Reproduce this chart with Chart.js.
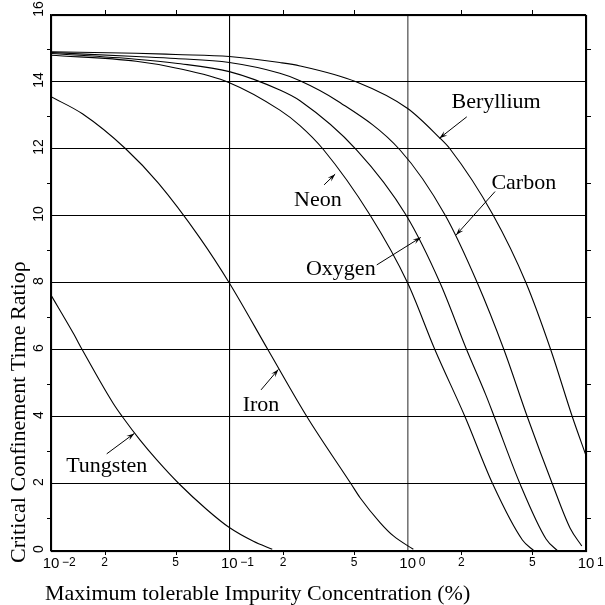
<!DOCTYPE html>
<html>
<head>
<meta charset="utf-8">
<script src="https://cdn.jsdelivr.net/npm/chart.js@4/dist/chart.umd.min.js"></script>
<style>
  html, body { margin: 0; padding: 0; background: #ffffff; }
  #wrap { width: 605px; height: 605px; }
</style>
</head>
<body>
<div id="wrap"><canvas id="c" width="605" height="605"></canvas></div>
<script>
// ---- Data (x = impurity concentration %, y = ratio) ----
const neonX = [0.01, 0.03, 0.05, 0.1, 0.192, 0.249, 0.335, 0.615, 1.0, 1.424, 2.1, 3.0, 4.4, 5.12];
const neonY = [14.8, 14.62, 14.42, 13.98, 13.16, 12.7, 12.0, 10.03, 8.0, 6.0, 4.0, 2.0, 0.33, 0];

const oxygenX = [0.01, 0.03, 0.05, 0.1, 0.192, 0.249, 0.518, 0.979, 1.52, 2.145, 2.742, 3.063, 4.27, 5.97, 6.95];
const oxygenY = [14.85, 14.68, 14.56, 14.31, 13.76, 13.44, 11.97, 10.03, 8.0, 6.0, 4.66, 4.0, 2.0, 0.36, 0];

const carbonX = [0.01, 0.03, 0.05, 0.1, 0.192, 0.249, 0.4, 0.906, 1.621, 2.46, 3.472, 4.692, 6.48, 8.15, 9.47];
const carbonY = [14.88, 14.76, 14.7, 14.58, 14.26, 14.04, 13.45, 11.97, 10.03, 8.0, 6.0, 4.0, 2.0, 0.68, 0.15];

const berylliumX = [0.01, 0.03, 0.05, 0.1, 0.192, 0.249, 0.518, 1.0, 1.5, 1.729, 3.013, 4.614, 6.35, 8.39, 10];
const berylliumY = [14.9, 14.86, 14.82, 14.76, 14.58, 14.48, 14.0, 13.21, 12.35, 12.0, 10.03, 8.0, 6.0, 4.0, 2.85];

const ironX = [0.01, 0.015, 0.0263, 0.04, 0.0685, 0.1, 0.165, 0.273, 0.482, 0.541, 0.7, 0.832, 1.076];
const ironY = [13.56, 13.05, 12.0, 10.98, 9.34, 8.0, 6.0, 4.0, 2.0, 1.59, 0.85, 0.45, 0.05];

const tungstenX = [0.01, 0.01334, 0.015, 0.0223, 0.0252, 0.0316, 0.0392, 0.0524, 0.0747, 0.1, 0.1364, 0.174];
const tungstenY = [7.64, 6.5, 6.0, 4.41, 4.0, 3.31, 2.72, 2.0, 1.24, 0.70, 0.29, 0.05];

const seriesNames = ["Neon", "Oxygen", "Carbon", "Beryllium", "Iron", "Tungsten"];

// axis ticks
const yTickValues = [0, 2, 4, 6, 8, 10, 12, 14, 16];
const xMajorTicks = [0.01, 0.1, 1, 10];
const xMajorExps = ["\u22122", "\u22121", "0", "1"];
const xMinorTicks = [0.02, 0.05, 0.2, 0.5, 2, 5];
const xMinorLabels = ["2", "5", "2", "5", "2", "5"];
const yMinorTicks = [1, 3, 5, 7, 9, 11, 13, 15];

// label annotations (in data coordinates): text anchor and arrow from->to
const labelText = ["Beryllium", "Carbon", "Neon", "Oxygen", "Iron", "Tungsten"];
const labelX = [3.131, 4.479, 0.3136, 0.4218, 0.1506, 0.02053];
const labelY = [13.22, 10.81, 10.30, 8.24, 4.18, 2.36];
const arrowFromX = [2.145, 3.09, 0.34, 0.671, 0.1506, 0.02053];
const arrowFromY = [12.96, 10.73, 10.93, 8.54, 4.81, 2.90];
const arrowToX = [1.507, 1.868, 0.392, 1.184, 0.1883, 0.02932];
const arrowToY = [12.32, 9.43, 11.25, 9.36, 5.42, 3.51];

const xTitle = "Maximum tolerable Impurity Concentration (%)";
const yTitle = "Critical Confinement Time Ratio\u03C1";

function pts(xs, ys) { return xs.map((x, i) => ({ x: x, y: ys[i] })); }

const allX = [neonX, oxygenX, carbonX, berylliumX, ironX, tungstenX];
const allY = [neonY, oxygenY, carbonY, berylliumY, ironY, tungstenY];

const datasets = seriesNames.map((n, i) => ({
  label: n,
  data: pts(allX[i], allY[i]),
  showLine: true,
  borderColor: "#000000",
  borderWidth: 1.1,
  pointRadius: 0,
  fill: false,
  cubicInterpolationMode: "monotone"
}));

const SERIF = "'Liberation Serif', 'Times New Roman', serif";
const SANS = "'Liberation Sans', Arial, sans-serif";

const decor = {
  id: "decor",
  afterDraw(chart) {
    const ctx = chart.ctx;
    const xs = chart.scales.x, ys = chart.scales.y;
    const a = chart.chartArea;
    ctx.save();
    ctx.strokeStyle = "#000";
    ctx.fillStyle = "#000";
    ctx.lineWidth = 1.2;
    // frame
    ctx.strokeRect(Math.round(a.left) + 0.5, Math.round(a.top) + 0.5,
                   Math.round(a.right - a.left), Math.round(a.bottom - a.top));
    // minor ticks
    ctx.lineWidth = 1;
    ctx.beginPath();
    yMinorTicks.forEach(v => {
      const p = Math.round(ys.getPixelForValue(v)) + 0.5;
      ctx.moveTo(a.left - 4, p); ctx.lineTo(a.left, p);
      ctx.moveTo(a.right, p); ctx.lineTo(a.right + 5, p);
    });
    xMinorTicks.forEach(v => {
      const p = Math.round(xs.getPixelForValue(v)) + 0.5;
      ctx.moveTo(p, a.top - 5); ctx.lineTo(p, a.top);
      ctx.moveTo(p, a.bottom); ctx.lineTo(p, a.bottom + 4);
    });
    ctx.stroke();

    // y tick labels, rotated
    ctx.font = "14px " + SANS;
    ctx.textAlign = "center";
    ctx.textBaseline = "alphabetic";
    yTickValues.forEach(v => {
      let p = ys.getPixelForValue(v) - 2;
      if (v === 16) p = ys.getPixelForValue(v) - 6;
      ctx.save();
      ctx.translate(43, p);
      ctx.rotate(-Math.PI / 2);
      ctx.fillText(String(v), 0, 0);
      ctx.restore();
    });

    // x tick labels
    xMajorTicks.forEach((v, i) => {
      const p = xs.getPixelForValue(v);
      ctx.font = "15px " + SANS;
      ctx.textAlign = "center";
      ctx.fillText("10", p, 568);
      ctx.font = "12px " + SANS;
      ctx.textAlign = "left";
      ctx.fillText(xMajorExps[i], p + 11, 565.5);
    });
    ctx.font = "12px " + SANS;
    ctx.textAlign = "center";
    xMinorTicks.forEach((v, i) => {
      ctx.fillText(xMinorLabels[i], xs.getPixelForValue(v), 565.5);
    });

    // axis titles
    ctx.font = "22px " + SERIF;
    ctx.textAlign = "left";
    ctx.fillText(xTitle, 45, 600);
    ctx.save();
    ctx.translate(25, 563);
    ctx.rotate(-Math.PI / 2);
    ctx.fillText(yTitle, 0, 0);
    ctx.restore();

    // labels + arrows
    ctx.font = "22px " + SERIF;
    ctx.textAlign = "center";
    labelText.forEach((t, i) => {
      ctx.fillText(t, xs.getPixelForValue(labelX[i]), ys.getPixelForValue(labelY[i]));
      const x1 = xs.getPixelForValue(arrowFromX[i]), y1 = ys.getPixelForValue(arrowFromY[i]);
      const x2 = xs.getPixelForValue(arrowToX[i]), y2 = ys.getPixelForValue(arrowToY[i]);
      ctx.lineWidth = 1;
      ctx.beginPath(); ctx.moveTo(x1, y1); ctx.lineTo(x2, y2); ctx.stroke();
      const ang = Math.atan2(y2 - y1, x2 - x1);
      const L = 8, W = 2.6;
      ctx.beginPath();
      ctx.moveTo(x2, y2);
      ctx.lineTo(x2 - L * Math.cos(ang) + W * Math.sin(ang), y2 - L * Math.sin(ang) - W * Math.cos(ang));
      ctx.lineTo(x2 - 0.6 * L * Math.cos(ang), y2 - 0.6 * L * Math.sin(ang));
      ctx.lineTo(x2 - L * Math.cos(ang) - W * Math.sin(ang), y2 - L * Math.sin(ang) + W * Math.cos(ang));
      ctx.closePath();
      ctx.fill();
    });
    ctx.restore();
  }
};

new Chart(document.getElementById("c"), {
  type: "scatter",
  data: { datasets: datasets },
  options: {
    responsive: false,
    animation: false,
    devicePixelRatio: 1,
    layout: { padding: { left: 51, top: 15, right: 19, bottom: 54 } },
    plugins: { legend: { display: false }, tooltip: { enabled: false } },
    scales: {
      x: {
        type: "logarithmic",
        min: 0.01, max: 10,
        afterBuildTicks: (axis) => { axis.ticks = xMajorTicks.map(v => ({ value: v })); },
        ticks: { display: false },
        grid: {
          drawTicks: false,
          color: (c) => (c.tick && c.tick.value === 1) ? "#777777" : "#000000",
          lineWidth: (c) => (c.tick && c.tick.value === 1) ? 1.6 : 1.1
        },
        border: { display: true, color: "#000", width: 1.2 }
      },
      y: {
        type: "linear",
        min: 0, max: 16,
        afterBuildTicks: (axis) => { axis.ticks = yTickValues.map(v => ({ value: v })); },
        ticks: { display: false },
        grid: { drawTicks: false, color: "#000000", lineWidth: 1.1 },
        border: { display: true, color: "#000", width: 1.2 }
      }
    }
  },
  plugins: [decor]
});
</script>
</body>
</html>
